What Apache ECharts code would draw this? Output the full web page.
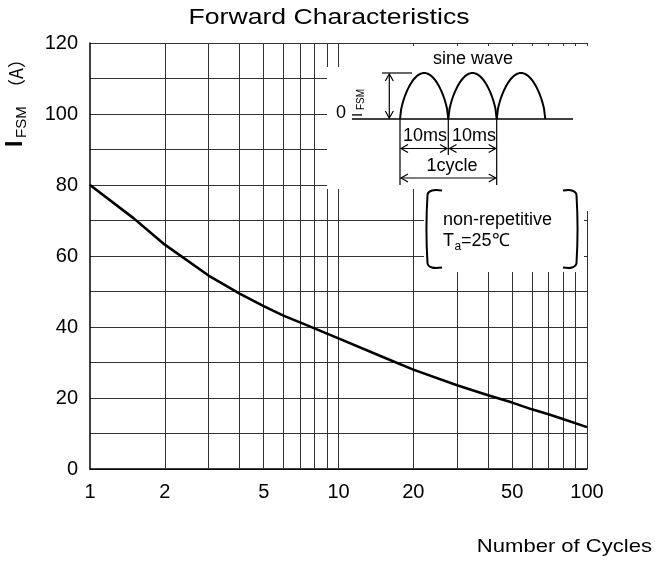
<!DOCTYPE html>
<html>
<head>
<meta charset="utf-8">
<script src="https://cdn.jsdelivr.net/npm/echarts@6/dist/echarts.min.js"></script>
<style>
html,body{margin:0;padding:0;background:#fff;}
#chart{width:655px;height:561px;}
</style>
</head>
<body>
<div id="chart"></div>
<script>
// ---- data ----
const cycles = [1, 1.5, 2, 3, 4, 5, 6, 7, 8, 10, 15, 20, 30, 40, 50, 60, 70, 80, 100];
const ifsm   = [80, 70.6, 63.2, 54.5, 49.4, 45.9, 43.2, 41.3, 39.6, 36.8, 31.6, 28.0, 23.6, 20.8, 18.7, 16.8, 15.4, 14.1, 11.8];
const xLabelValues = [1, 2, 5, 10, 20, 50, 100];
const xGridValues = [2, 3, 4, 5, 6, 7, 8, 9, 10, 20, 30, 40, 50, 60, 70, 80, 90, 100];
const yMin = 0, yMax = 120, yStep = 10, yLabelStep = 20;

const FONT = '"Liberation Sans", Arial, Helvetica, sans-serif';
const CJK = '"Noto Sans CJK SC", "Liberation Sans", sans-serif';
const chart = echarts.init(document.getElementById('chart'), null, {renderer: 'canvas'});

// ---- inset decoration helpers ----
const Z = 50;
function ln(x1, y1, x2, y2, w) {
  return {type: 'line', z: Z, silent: true, shape: {x1, y1, x2, y2}, style: {stroke: '#000', lineWidth: w || 1.2}};
}
function head(x, y, dir) {
  let pts;
  if (dir === 'left') pts = [[x + 7, y - 4], [x, y], [x + 7, y + 4]];
  else if (dir === 'right') pts = [[x - 7, y - 4], [x, y], [x - 7, y + 4]];
  else if (dir === 'up') pts = [[x - 4, y + 7], [x, y], [x + 4, y + 7]];
  else pts = [[x - 4, y - 7], [x, y], [x + 4, y - 7]];
  return {type: 'polyline', z: Z, silent: true, shape: {points: pts}, style: {stroke: '#000', lineWidth: 1.2, fill: null}};
}
function arch(x0, w, baseY, h) {
  const pts = [];
  for (let i = 0; i <= 40; i++) {
    const s = Math.sin(Math.PI * i / 40);
    pts.push([x0 + w * i / 40, baseY - h * Math.pow(s, 0.6)]);
  }
  return {type: 'polyline', z: Z, silent: true, shape: {points: pts}, style: {stroke: '#000', lineWidth: 2, fill: null}};
}
function txt(text, x, y, size, opts) {
  opts = opts || {};
  return {
    type: 'text', z: Z + 1, silent: true, x, y,
    rotation: opts.rotation || 0, scaleX: opts.scaleX || 1,
    style: {text, fill: '#000', font: (opts.weight ? opts.weight + ' ' : '') + size + 'px ' + (opts.family || FONT),
      align: opts.align || 'center', verticalAlign: opts.va || 'middle'}
  };
}
function whiteRect(x, y, w, h) {
  return {type: 'rect', z: Z - 1, silent: true, shape: {x, y, width: w, height: h}, style: {fill: '#fff'}};
}

const base = 119;
const graphics = [
  // title & axis names
  txt('Forward Characteristics', 329, 18, 22, {scaleX: 1.21}),
  txt('Number of Cycles', 652, 547, 19, {align: 'right', scaleX: 1.16}),
  txt('I', 15.5, 147, 23, {rotation: Math.PI / 2, align: 'left', weight: 'bold'}),
  txt('FSM', 21.5, 138, 15, {rotation: Math.PI / 2, align: 'left'}),
  txt('（A）', 16.5, 97, 18, {rotation: Math.PI / 2, align: 'left', family: CJK}),

  // white backgrounds of the insets
  whiteRect(327, 67, 263, 122),
  whiteRect(346, 46, 244, 22),
  whiteRect(424, 189, 160, 83),
  whiteRect(584, 189, 6, 22),

  // sine wave sketch
  txt('sine wave', 473, 59, 18),
  ln(352, base, 573, base, 1.4),
  arch(400, 48.3, base, 46),
  arch(448.3, 48.4, base, 46),
  arch(496.7, 48.6, base, 46),
  ln(382, 73, 412, 73),
  ln(389.3, 74, 389.3, 118),
  head(389.3, 74, 'up'),
  head(389.3, 118, 'down'),
  txt('0', 341, 113, 18),
  txt('I', 358, 117, 15, {rotation: Math.PI / 2, align: 'left'}),
  txt('FSM', 361, 110, 10, {rotation: Math.PI / 2, align: 'left'}),

  // timing marks
  ln(400, base, 400, 185),
  ln(448.3, base, 448.3, 155),
  ln(496.7, base, 496.7, 185),
  ln(401, 148.5, 447, 148.5), head(401, 148.5, 'left'), head(447, 148.5, 'right'),
  ln(449.5, 148.5, 495.7, 148.5), head(449.5, 148.5, 'left'), head(495.7, 148.5, 'right'),
  txt('10ms', 425, 136, 18),
  txt('10ms', 474, 136, 18),
  txt('1cycle', 452, 166, 18),
  ln(401, 178, 495.7, 178), head(401, 178, 'left'), head(495.7, 178, 'right'),

  // bracket box
  {type: 'polyline', z: Z, silent: true,
   shape: {points: [[442, 190.5], [432, 190.5], [427.5, 195], [427.5, 263], [432, 267.5], [442, 267.5]], smooth: 0.35},
   style: {stroke: '#000', lineWidth: 2, fill: null}},
  {type: 'polyline', z: Z, silent: true,
   shape: {points: [[563, 190.5], [572, 190.5], [576.5, 195], [576.5, 263], [572, 267.5], [563, 267.5]], smooth: 0.35},
   style: {stroke: '#000', lineWidth: 2, fill: null}},
  txt('non-repetitive', 443, 220, 18, {align: 'left'}),
  txt('T', 443, 241.5, 18, {align: 'left'}),
  txt('a', 454.5, 247, 12, {align: 'left'}),
  txt('=25℃', 461, 241.5, 18, {align: 'left'})
];

const option = {
  backgroundColor: '#fff',
  animation: false,
  textStyle: {fontFamily: FONT},
  grid: {left: 90, right: 68, top: 43, bottom: 92, containLabel: false},
  xAxis: {
    type: 'log', logBase: 10, min: 1, max: 100,
    axisLine: {show: true, lineStyle: {color: '#000', width: 1.5}},
    axisTick: {show: false},
    splitLine: {show: false},
    minorTick: {show: false},
    axisLabel: {
      customValues: xLabelValues,
      color: '#000', fontSize: 20, fontFamily: FONT, margin: 13,
      showMinLabel: true, showMaxLabel: true
    }
  },
  yAxis: {
    type: 'value', min: yMin, max: yMax, interval: yStep,
    axisLine: {show: true, lineStyle: {color: '#000', width: 1.5}},
    axisTick: {show: false},
    splitLine: {show: true, lineStyle: {color: '#333', width: 1}},
    axisLabel: {
      color: '#000', fontSize: 20, fontFamily: FONT, margin: 12,
      formatter: v => (v % yLabelStep === 0 ? String(v) : '')
    }
  },
  series: [{
    type: 'line',
    data: cycles.map((c, i) => [c, ifsm[i]]),
    smooth: false,
    symbol: 'none',
    lineStyle: {color: '#000', width: 2.6, join: 'round'},
    z: 5,
    markLine: {
      silent: true, symbol: 'none', animation: false,
      label: {show: false},
      lineStyle: {color: '#333', width: 1, type: 'solid'},
      data: xGridValues.map(v => ({xAxis: v}))
    }
  }],
  graphic: {elements: graphics}
};
chart.setOption(option);
</script>
</body>
</html>
